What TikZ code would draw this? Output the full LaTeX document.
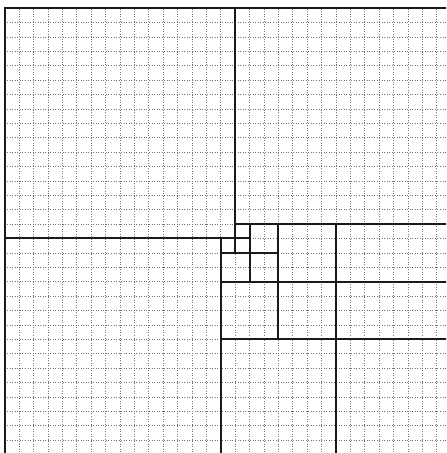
\documentclass[tikz,border=0pt]{standalone}
\begin{document}
\begin{tikzpicture}[x=0.5cm,y=0.5cm,
  gridline/.style={dotted, line width=0.5pt, black!55},
  sqline/.style={line width=2pt, black!90, line cap=rect}]
\useasboundingbox (-15.33,-15.9) rectangle (15.65,15.56);
\clip (-15.33,-15.9) rectangle (15.65,15.56);
\draw[gridline, step=0.5cm] (-15,-16) grid (16,15);
% outer frame
\draw[sqline] (-15,-16) rectangle (16,15);
% dividing lines
\draw[sqline] (1,15) -- (1,-2);
\draw[sqline] (-15,-1) -- (2,-1);
\draw[sqline] (1,0) -- (16,0);
\draw[sqline] (0,-1) -- (0,-16);
\draw[sqline] (2,0) -- (2,-4);
\draw[sqline] (0,-2) -- (4,-2);
\draw[sqline] (4,0) -- (4,-8);
\draw[sqline] (0,-4) -- (16,-4);
\draw[sqline] (8,0) -- (8,-16);
\draw[sqline] (0,-8) -- (16,-8);
\end{tikzpicture}
\end{document}
